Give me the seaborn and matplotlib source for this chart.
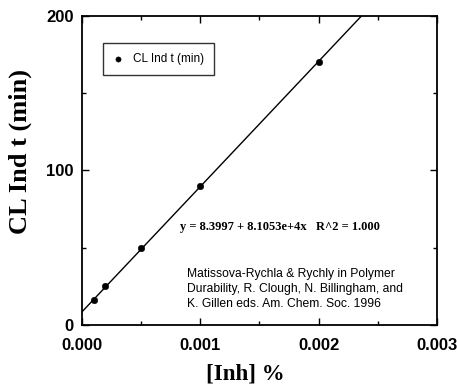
import numpy as np
import pandas as pd
import matplotlib
matplotlib.use("Agg")
import matplotlib.pyplot as plt
import seaborn as sns
from matplotlib.ticker import MultipleLocator

inh = [0.0001, 0.0002, 0.0005, 0.0010, 0.0020]
cl_t = [16.0, 25.0, 50.0, 90.0, 170.0]
intercept = 8.3997
slope = 8.1053e4
x_ticks = [0.000, 0.001, 0.002, 0.003]
x_tick_labels = ["0.000", "0.001", "0.002", "0.003"]
y_ticks = [0, 100, 200]
y_tick_labels = ["0", "100", "200"]

sns.set_theme(style="ticks")
plt.rcParams['font.family'] = ['Liberation Sans', 'DejaVu Sans']
plt.rcParams['text.color'] = 'black'
plt.rcParams['axes.labelcolor'] = 'black'

fig = plt.figure(figsize=(4.57, 3.86), dpi=100)
ax = fig.add_axes([0.179, 0.158, 0.777, 0.801])

df = pd.DataFrame({"x": inh, "y": cl_t})
xfit = np.linspace(0, (200 - intercept) / slope, 50)
fit = pd.DataFrame({"x": xfit, "y": intercept + slope * xfit})
sns.lineplot(data=fit, x="x", y="y", ax=ax, color="black", lw=1.0, legend=False)
sns.scatterplot(data=df, x="x", y="y", ax=ax, color="black", s=22, edgecolor="black",
                label="CL Ind t (min)", zorder=5)

ax.set_xlim(0, 0.003)
ax.set_ylim(0, 200)
ax.set_xticks(x_ticks)
ax.set_xticklabels(x_tick_labels, fontweight="bold", fontsize=12)
ax.set_yticks(y_ticks)
ax.set_yticklabels(y_tick_labels, fontweight="bold", fontsize=12)
ax.xaxis.set_minor_locator(MultipleLocator(0.0005))
ax.yaxis.set_minor_locator(MultipleLocator(50))
ax.tick_params(which="both", direction="in", top=True, right=True, colors="black")
ax.tick_params(which="major", length=5, width=1)
ax.tick_params(which="minor", length=3, width=1)
ax.tick_params(axis="x", which="major", pad=9)
ax.tick_params(axis="y", which="major", pad=6)
for s in ax.spines.values():
    s.set_color("black")
    s.set_linewidth(1.3)

ax.set_xlabel("[Inh] %", family="Liberation Serif", fontweight="bold", fontsize=16.5, color="black")
ax.xaxis.set_label_coords(0.46, -0.16)
ax.xaxis.label.set_va("center")
ax.set_ylabel("CL Ind t (min)", family="Liberation Serif", fontweight="bold", fontsize=19, color="black")
ax.yaxis.set_label_coords(-0.172, 0.56)
ax.yaxis.label.set_va("center")

leg = ax.legend(loc="upper left", bbox_to_anchor=(0.059, 0.913), fontsize=8.5,
                frameon=True, fancybox=False, handletextpad=0.9, handlelength=0.8,
                borderpad=0.85, borderaxespad=0, markerscale=0.8)
leg.get_frame().set_edgecolor("black")
leg.get_frame().set_linewidth(1.0)
for t in leg.get_texts():
    t.set_color("black")

ax.text(0.000828, 63.4, "y = 8.3997 + 8.1053e+4x   R^2 = 1.000", family="Liberation Serif",
        fontweight="bold", fontsize=9, va="center", ha="left", color="black")
ax.text(0.000887, 9.5, "Matissova-Rychla & Rychly in Polymer\nDurability, R. Clough, N. Billingham, and\nK. Gillen eds. Am. Chem. Soc. 1996",
        fontsize=8.7, va="bottom", ha="left", linespacing=1.35, color="black")

fig.savefig("out.png", dpi=100)
